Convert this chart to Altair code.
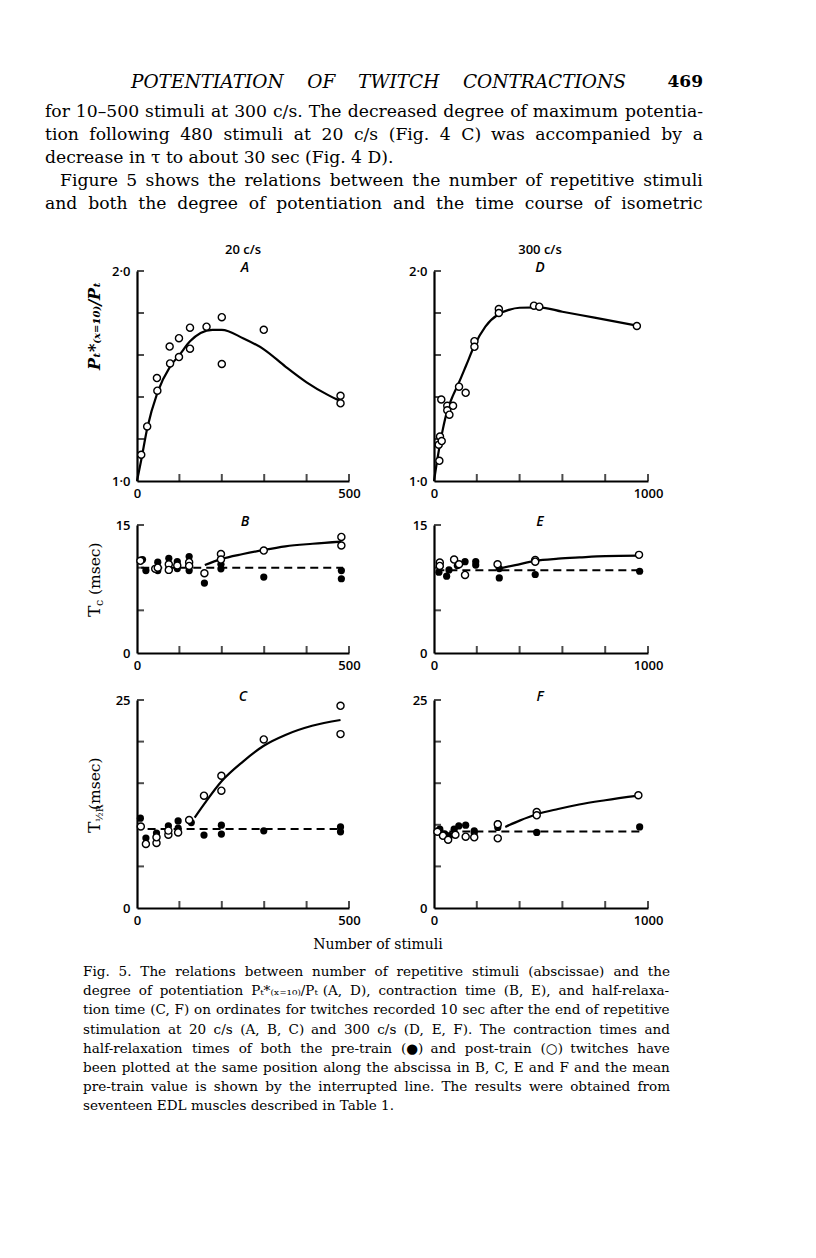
import altair as alt
import pandas as pd

W, H = 800, 1242

# ---------------- page text ----------------
header_text = "POTENTIATION OF TWITCH CONTRACTIONS"
page_number = "469"
para_lines = [
    "for 10\u2013500 stimuli at 300 c/s. The decreased degree of maximum potentia-",
    "tion following 480 stimuli at 20 c/s (Fig. 4 C) was accompanied by a",
    "decrease in \u03c4 to about 30 sec (Fig. 4 D).",
    "Figure 5 shows the relations between the number of repetitive stimuli",
    "and both the degree of potentiation and the time course of isometric",
]
para_justified = [True, True, False, True, True]
caption_lines = [
    "Fig. 5. The relations between number of repetitive stimuli (abscissae) and the",
    "degree of potentiation P\u209c*\u208d\u2093\u208c\u2081\u2080\u208e/P\u209c (A, D), contraction time (B, E), and half-relaxa-",
    "tion time (C, F) on ordinates for twitches recorded 10 sec after the end of repetitive",
    "stimulation at 20 c/s (A, B, C) and 300 c/s (D, E, F). The contraction times and",
    "half-relaxation times of both the pre-train (\u25cf) and post-train (\u25cb) twitches have",
    "been plotted at the same position along the abscissa in B, C, E and F and the mean",
    "pre-train value is shown by the interrupted line. The results were obtained from",
    "seventeen EDL muscles described in Table 1.",
]
caption_justified = [True, True, True, True, True, True, True, False]
xaxis_title = "Number of stimuli"
col_titles = ["20 c/s", "300 c/s"]
panel_letters = ["A", "D", "B", "E", "C", "F"]
ylabel_A = "P\u209c*\u208d\u2093\u208c\u2081\u2080\u208e/P\u209c"

# ---------------- data ----------------
# A: potentiation, 20 c/s (post-train, open)
A_x = [10, 24, 48, 47, 78, 77, 99, 99, 125, 125, 164, 200, 200, 299, 480, 480]
A_y = [1.125, 1.26, 1.43, 1.49, 1.56, 1.64, 1.59, 1.68, 1.63, 1.73, 1.735, 1.78, 1.557, 1.72, 1.406, 1.37]
A_curve_x = [0, 10, 24, 48, 78, 100, 125, 150, 178, 200, 250, 300, 350, 400, 450, 480]
A_curve_y = [1.0, 1.1, 1.25, 1.42, 1.545, 1.60, 1.665, 1.705, 1.72, 1.72, 1.68, 1.626, 1.545, 1.47, 1.41, 1.38]

# D: potentiation, 300 c/s
D_x = [34, 25, 22, 28, 36, 62, 62, 72, 89, 117, 148, 189, 189, 303, 303, 467, 492, 948]
D_y = [1.388, 1.096, 1.173, 1.212, 1.19, 1.358, 1.337, 1.316, 1.358, 1.449, 1.42, 1.666, 1.639, 1.819, 1.80, 1.835, 1.83, 1.738]
D_curve_x = [0, 20, 40, 62, 90, 117, 150, 189, 240, 303, 350, 400, 492, 600, 750, 948]
D_curve_y = [1.0, 1.13, 1.24, 1.335, 1.41, 1.47, 1.55, 1.645, 1.735, 1.795, 1.815, 1.825, 1.827, 1.806, 1.778, 1.74]

# B: contraction time, 20 c/s
B_pre_x = [13, 21, 49, 49, 75, 75, 95, 95, 123, 123, 159, 198, 198, 299, 482, 482]
B_pre_y = [10.95, 9.66, 10.64, 9.66, 11.1, 9.9, 10.7, 9.9, 11.3, 9.66, 8.2, 10.4, 9.86, 8.9, 9.66, 8.7]
B_post_x = [8, 43, 49, 75, 75, 95, 123, 123, 159, 198, 198, 299, 482, 482]
B_post_y = [10.8, 9.86, 10.0, 10.4, 9.74, 10.25, 10.64, 10.2, 9.35, 11.6, 10.95, 12.0, 13.6, 12.6]
B_curve_x = [160, 198, 250, 299, 350, 414, 482]
B_curve_y = [10.3, 11.0, 11.6, 12.08, 12.5, 12.8, 13.05]
B_mean_x = [10, 486]
B_mean_y = [10.0, 10.0]

# E: contraction time, 300 c/s
E_pre_x = [23, 59, 70, 109, 145, 195, 195, 305, 305, 473, 961]
E_pre_y = [9.47, 9.0, 9.74, 10.25, 10.7, 10.7, 10.3, 9.9, 8.8, 9.2, 9.58]
E_post_x = [27, 27, 94, 117, 145, 297, 473, 473, 958]
E_post_y = [10.6, 10.2, 10.95, 10.4, 9.15, 10.4, 10.9, 10.7, 11.5]
E_curve_x = [297, 380, 473, 580, 680, 800, 958]
E_curve_y = [9.86, 10.3, 10.8, 11.05, 11.2, 11.35, 11.4]
E_mean_x = [11, 975]
E_mean_y = [9.7, 9.7]

# C: half-relaxation time, 20 c/s
C_pre_x = [8, 21, 46, 46, 74, 97, 97, 128, 158, 199, 199, 299, 480, 480]
C_pre_y = [10.8, 8.4, 9.0, 8.6, 9.87, 10.47, 9.6, 10.27, 8.77, 9.95, 8.89, 9.28, 9.75, 9.16]
C_post_x = [9, 21, 46, 46, 74, 74, 97, 123, 158, 199, 199, 299, 480, 480]
C_post_y = [9.8, 7.7, 7.82, 8.49, 8.8, 9.3, 9.08, 10.58, 13.5, 15.9, 14.1, 20.26, 24.3, 20.9]
C_curve_x = [136, 160, 199, 250, 299, 350, 413, 480]
C_curve_y = [10.86, 12.6, 15.2, 17.6, 19.5, 20.8, 21.9, 22.6]
C_mean_x = [25, 484]
C_mean_y = [9.5, 9.5]

# F: half-relaxation time, 300 c/s
F_pre_x = [27, 50, 74, 94, 116, 148, 188, 188, 298, 298, 480, 961]
F_pre_y = [9.48, 8.9, 8.7, 9.48, 9.87, 9.95, 9.28, 9.0, 9.68, 10.1, 9.08, 9.75]
F_post_x = [16, 42, 66, 100, 148, 188, 298, 298, 480, 480, 955]
F_post_y = [9.16, 8.69, 8.2, 8.8, 8.57, 8.49, 10.07, 8.37, 11.53, 11.14, 13.55]
F_curve_x = [333, 400, 480, 580, 678, 800, 955]
F_curve_y = [9.75, 10.5, 11.26, 11.9, 12.44, 12.95, 13.5]
F_mean_x = [11, 961]
F_mean_y = [9.2, 9.2]

# axis ticks
ticks_x_500 = [100, 200, 300, 400, 500]
ticks_x_1000 = [200, 400, 600, 800, 1000]
ticks_y_pot = [1.2, 1.4, 1.6, 1.8, 2.0]
ticks_y_15 = [5, 10, 15]
ticks_y_25 = [5, 10, 15, 20, 25]

# ---------------- layout (pixels in chart coordinates) ----------------
LX = [129, 341]
RX = [426, 640]
ROW1 = [473, 263]
ROW2 = [645, 517]
ROW3 = [900, 692]

LABEL_FONT = "Open Sans"
SERIF = "DejaVu Serif"

# approximate DejaVu Serif advance widths (units of 1/2048 em), for justification
_ADV = dict(zip("abcdefghijklmnopqrstuvwxyz",
                [1221, 1311, 1145, 1311, 1212, 739, 1311, 1319, 657, 641, 1249, 657, 1958,
                 1319, 1233, 1311, 1311, 979, 1059, 821, 1319, 1200, 1751, 1200, 1200, 1071]))
_ADV.update(dict(zip("ABCDEFGHIJKLMNOPQRSTUVWXYZ",
                     [1483, 1489, 1475, 1649, 1495, 1417, 1608, 1724, 864, 842, 1561, 1378, 2007,
                      1700, 1616, 1399, 1616, 1540, 1346, 1399, 1618, 1483, 2161, 1483, 1399, 1391])))
_ADV.update({d: 1303 for d in "0123456789"})
_ADV.update({" ": 651, ".": 651, ",": 651, ":": 690, ";": 690, "-": 695, "/": 690,
             "(": 799, ")": 799, "\u2013": 1024, "*": 1024, "=": 1716,
             "\u25cf": 1560, "\u25cb": 1560, "\u03c4": 1150})
_ADV.update({c: 640 for c in "\u209c\u2093\u208c\u2081\u2080\u208d\u208e"})


def em(s):
    return sum(_ADV.get(ch, 1100) for ch in s) / 2048.0


def set_lines(lines, justified, x0, x1, y0, dy, size):
    """Return a table of word placements (justified like the printed page)."""
    rows = []
    for i, (line, just) in enumerate(zip(lines, justified)):
        y = y0 + i * dy
        lx = x0[i] if isinstance(x0, list) else x0
        if not just:
            rows.append({"w": line, "px": lx, "py": y})
            continue
        words = line.split(" ")
        widths = [em(w) * size for w in words]
        gap = (x1 - lx - sum(widths)) / (len(words) - 1)
        x = lx
        for w, wd in zip(words, widths):
            rows.append({"w": w, "px": x, "py": y})
            x += wd + gap
    return pd.DataFrame(rows)


def text_block(df, size, style="normal", weight="normal", font=SERIF):
    return alt.Chart(df).mark_text(
        font=font, fontSize=size, fontStyle=style, fontWeight=weight,
        align="left", baseline="middle", color="black"
    ).encode(x=alt.X("px:Q", scale=None, axis=None),
             y=alt.Y("py:Q", scale=None, axis=None),
             text="w:N")


def panel(xmax, ydom, xr, yr, xticks, yticks, label_expr,
          post, pre=None, curve=None, mean=None):
    xs = alt.Scale(domain=[0, xmax], range=xr, nice=False, zero=False)
    ys = alt.Scale(domain=ydom, range=yr, nice=False, zero=False)
    ax = alt.Axis(orient="bottom", offset=-(H - yr[0]), values=[0, xmax],
                  ticks=False, grid=False, title=None, labelFlush=False,
                  domainColor="black", domainWidth=2.2, labelPadding=6,
                  labelFont=LABEL_FONT, labelFontSize=13, labelFontWeight=600,
                  labelColor="black", format="d")
    ay_kwargs = dict(orient="left", offset=-xr[0], values=list(ydom),
                     ticks=False, grid=False, title=None,
                     domainColor="black", domainWidth=2.2, labelPadding=7,
                     labelFont=LABEL_FONT, labelFontSize=13, labelFontWeight=600,
                     labelColor="black", labelFlush=False)
    if label_expr:
        ay_kwargs["labelExpr"] = label_expr
    else:
        ay_kwargs["format"] = "d"
    ay = alt.Axis(**ay_kwargs)

    def enc(ch):
        return ch.encode(x=alt.X("x:Q", scale=xs, axis=ax),
                         y=alt.Y("y:Q", scale=ys, axis=ay))

    layers = []
    xt = pd.DataFrame({"x": xticks, "y": [ydom[0]] * len(xticks)})
    yt = pd.DataFrame({"x": [0] * len(yticks), "y": yticks})
    layers.append(enc(alt.Chart(xt).mark_tick(orient="vertical", size=7, thickness=2,
                                              yOffset=-3.5, color="black")))
    layers.append(enc(alt.Chart(yt).mark_tick(orient="horizontal", size=7, thickness=2,
                                              xOffset=3.5, color="black")))
    if mean is not None:
        layers.append(enc(alt.Chart(pd.DataFrame({"x": mean[0], "y": mean[1]}))
                          .mark_line(color="black", strokeWidth=2, strokeDash=[8, 5])))
    if curve is not None:
        layers.append(enc(alt.Chart(pd.DataFrame({"x": curve[0], "y": curve[1]}))
                          .mark_line(color="black", strokeWidth=2.2, interpolate="monotone")))
    if pre is not None:
        layers.append(enc(alt.Chart(pd.DataFrame({"x": pre[0], "y": pre[1]}))
                          .mark_point(shape="circle", filled=True, size=52, color="black",
                                      opacity=1)))
    layers.append(enc(alt.Chart(pd.DataFrame({"x": post[0], "y": post[1]}))
                      .mark_point(shape="circle", filled=False, size=50, stroke="black",
                                  fill="white", fillOpacity=1, strokeWidth=1.4, opacity=1)))
    return alt.layer(*layers)


pot_expr = "datum.value == 2 ? '2\u00b70' : '1\u00b70'"

pA = panel(500, [1.0, 2.0], LX, ROW1, ticks_x_500, ticks_y_pot, pot_expr,
           (A_x, A_y), curve=(A_curve_x, A_curve_y))
pD = panel(1000, [1.0, 2.0], RX, ROW1, ticks_x_1000, ticks_y_pot, pot_expr,
           (D_x, D_y), curve=(D_curve_x, D_curve_y))
pB = panel(500, [0, 15], LX, ROW2, ticks_x_500, ticks_y_15, None,
           (B_post_x, B_post_y), pre=(B_pre_x, B_pre_y),
           curve=(B_curve_x, B_curve_y), mean=(B_mean_x, B_mean_y))
pE = panel(1000, [0, 15], RX, ROW2, ticks_x_1000, ticks_y_15, None,
           (E_post_x, E_post_y), pre=(E_pre_x, E_pre_y),
           curve=(E_curve_x, E_curve_y), mean=(E_mean_x, E_mean_y))
pC = panel(500, [0, 25], LX, ROW3, ticks_x_500, ticks_y_25, None,
           (C_post_x, C_post_y), pre=(C_pre_x, C_pre_y),
           curve=(C_curve_x, C_curve_y), mean=(C_mean_x, C_mean_y))
pF = panel(1000, [0, 25], RX, ROW3, ticks_x_1000, ticks_y_25, None,
           (F_post_x, F_post_y), pre=(F_pre_x, F_pre_y),
           curve=(F_curve_x, F_curve_y), mean=(F_mean_x, F_mean_y))

ONE = alt.Data(values=[{}])


def txt(s, x, y, size=15, font=SERIF, style="normal", weight="normal",
        align="left", angle=0, baseline="middle"):
    return alt.Chart(ONE).mark_text(
        text=s, font=font, fontSize=size, fontStyle=style, fontWeight=weight,
        align=align, baseline=baseline, angle=angle, color="black"
    ).encode(x=alt.value(x), y=alt.value(y))


texts = []
# running head, letter-spaced look: words spread across the measure
HEAD_SIZE = 18.5
texts.append(text_block(set_lines([header_text], [True], 123, 614, 74, 0, HEAD_SIZE),
                        HEAD_SIZE, style="italic"))
texts.append(txt(page_number, 695, 74, size=17, align="right", weight="bold"))

PARA_SIZE = 17.2
texts.append(text_block(
    set_lines(para_lines, para_justified, [37, 37, 37, 52, 37], 695, 104, 23, PARA_SIZE),
    PARA_SIZE))

CAP_X0, CAP_X1 = 75, 662
CAP_SIZE = min(14.5, min((CAP_X1 - CAP_X0) / em(s) * 0.985
                         for s, j in zip(caption_lines, caption_justified) if j))
texts.append(text_block(
    set_lines(caption_lines, caption_justified, CAP_X0, CAP_X1, 964, 19.2, CAP_SIZE),
    CAP_SIZE))

texts.append(txt(xaxis_title, 370, 937, size=14, align="center"))
texts.append(txt(col_titles[0], 235, 242, size=13, font=LABEL_FONT, weight=600, align="center"))
texts.append(txt(col_titles[1], 532, 242, size=13, font=LABEL_FONT, weight=600, align="center"))
letter_pos = [(237, 260), (532, 260), (237, 514), (532, 514), (235, 689), (532, 689)]
for s, (xx, yy) in zip(panel_letters, letter_pos):
    texts.append(txt(s, xx, yy, size=14, font=LABEL_FONT, style="italic", weight=600,
                     align="center"))
# y axis titles (rotated)
texts.append(txt(ylabel_A, 87, 318, size=16, style="italic", weight="bold",
                 align="center", angle=270))
texts.append(txt("T", 87, 609, size=17, angle=270))
texts.append(txt("c", 92, 598, size=11, angle=270))
texts.append(txt("(msec)", 87, 587, size=15.5, angle=270))
texts.append(txt("T", 87, 825, size=17, angle=270))
texts.append(txt("\u00bdR", 92, 814, size=10, angle=270))
texts.append(txt("(msec)", 87, 802, size=15.5, angle=270))

chart = alt.layer(pA, pD, pB, pE, pC, pF, *texts).resolve_scale(
    x="independent", y="independent"
).properties(
    width=W, height=H, autosize=alt.AutoSizeParams(type="none"), padding=0,
    background="white"
).configure_view(stroke=None)

chart.save("out.html", embed_options={"renderer": "svg", "actions": False})
